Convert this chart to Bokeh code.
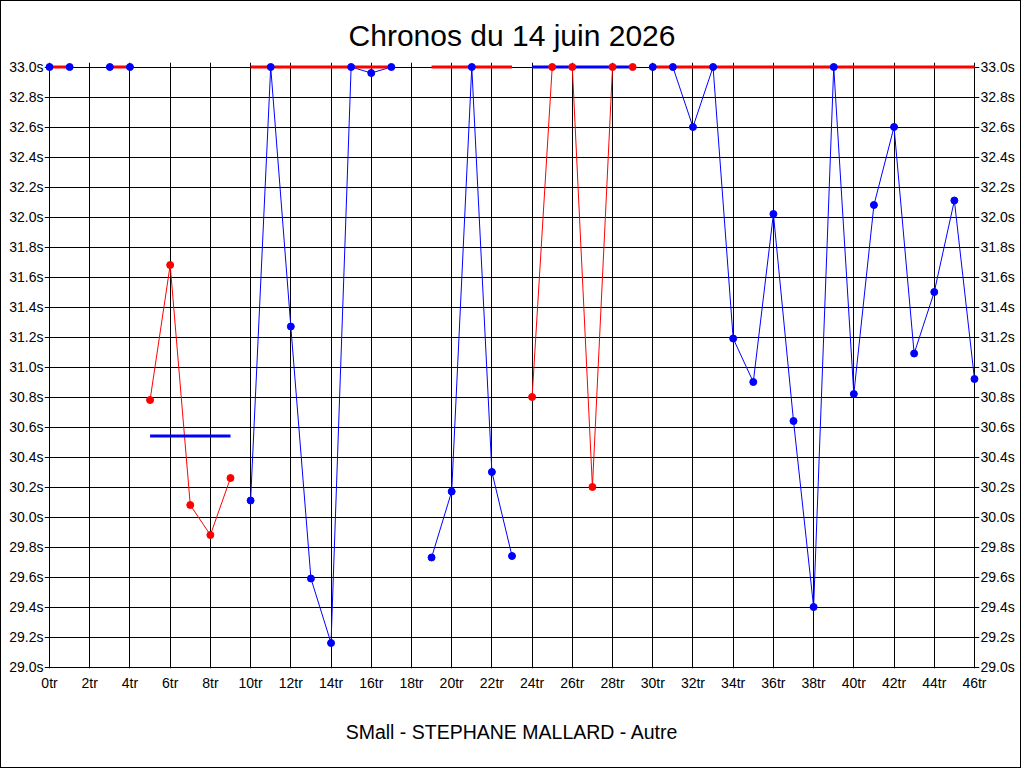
import math
from bokeh.plotting import figure
from bokeh.models import Range1d, LinearAxis, FixedTicker, PrintfTickFormatter, Title
from bokeh.embed import file_html
from bokeh.resources import INLINE

nan = float("nan")

# lap index (tours) and lap times in seconds (values above 33.0 are shown capped at 33.0)
laps = list(range(47))
lap_times = [33.0, 33.0, nan, 33.0, 33.0, 30.78, 31.68, 30.08, 29.88, 30.26,
             30.11, 33.0, 31.27, 29.59, 29.16, 33.0, 32.96, 33.0, nan, 29.73,
             30.17, 33.0, 30.30, 29.74, 30.80, 33.0, 33.0, 30.20, 33.0, 33.0,
             33.0, 33.0, 32.60, 33.0, 31.19, 30.90, 32.02, 30.64, 29.40, 33.0,
             30.82, 32.08, 32.60, 31.09, 31.50, 32.11, 30.92]

# stints: first lap, last lap, kind, average time (capped)
stint_start = [0, 3, 5, 10, 19, 24, 30]
stint_end = [1, 4, 9, 17, 23, 29, 46]
stint_kind = ["B", "B", "A", "B", "B", "A", "B"]
stint_avg = [33.0, 33.0, 30.54, 33.0, 33.0, 33.0, 33.0]

x_ticks = list(range(0, 47, 2))
y_ticks = [29.0, 29.2, 29.4, 29.6, 29.8, 30.0, 30.2, 30.4, 30.6, 30.8, 31.0,
           31.2, 31.4, 31.6, 31.8, 32.0, 32.2, 32.4, 32.6, 32.8, 33.0]

title_text = "Chronos du 14 juin 2026"
footer_text = "SMall - STEPHANE MALLARD - Autre"

RED = "#ff0000"
BLUE = "#0000ff"
kind_color = {"A": RED, "B": BLUE}
avg_color = {"A": BLUE, "B": RED}
FONT = "Liberation Sans"

p = figure(frame_width=935, frame_height=606,
           x_range=Range1d(-0.25, 46.25), y_range=Range1d(28.99, 33.03),
           output_backend="svg", toolbar_location=None,
           min_border_left=43, min_border_right=41,
           min_border_top=61, min_border_bottom=96,
           background_fill_color="white", border_fill_color="white")
p.outline_line_color = None

p.title.text = title_text
p.title.align = "center"
p.title.text_font = FONT
p.title.text_font_size = "30px"
p.title.text_font_style = "normal"
p.title.text_color = "black"
p.title.standoff = 22

foot = Title(text=footer_text, align="center", text_font=FONT,
             text_font_size="19.5px", text_font_style="normal",
             text_color="black", standoff=50)
p.add_layout(foot, "below")

right_axis = LinearAxis()
p.add_layout(right_axis, "right")

for ax in p.xaxis:
    ax.ticker = FixedTicker(ticks=x_ticks)
    ax.formatter = PrintfTickFormatter(format="%dtr")
    ax.major_label_standoff = 6
for ax in p.yaxis:
    ax.ticker = FixedTicker(ticks=y_ticks)
    ax.formatter = PrintfTickFormatter(format="%.1fs")
    ax.major_label_standoff = 1
for ax in p.xaxis + p.yaxis:
    ax.axis_line_color = None
    ax.major_tick_line_color = None
    ax.minor_tick_line_color = None
    ax.major_tick_out = 0
    ax.major_tick_in = 0
    ax.major_label_text_font = FONT
    ax.major_label_text_font_size = "14px"
    ax.major_label_text_color = "black"

p.xgrid.ticker = FixedTicker(ticks=x_ticks)
p.ygrid.ticker = FixedTicker(ticks=y_ticks)
for g in (p.xgrid, p.ygrid):
    g.grid_line_color = "black"
    g.grid_line_width = 1
    g.grid_line_alpha = 1.0

# thin lap lines
for s, e, k in zip(stint_start, stint_end, stint_kind):
    xs = laps[s:e + 1]
    ys = lap_times[s:e + 1]
    p.line(xs, ys, line_color=kind_color[k], line_width=1)

# average lines
for s, e, k, a in zip(stint_start, stint_end, stint_kind, stint_avg):
    p.line([laps[s], laps[e]], [a, a], line_color=avg_color[k], line_width=3)

# lap markers
for s, e, k in zip(stint_start, stint_end, stint_kind):
    xs = laps[s:e + 1]
    ys = lap_times[s:e + 1]
    p.scatter(xs, ys, size=7, fill_color=kind_color[k], line_color=kind_color[k])

p.styles = {"border": "1px solid black"}

open("out.html", "w").write(file_html(p, INLINE))
